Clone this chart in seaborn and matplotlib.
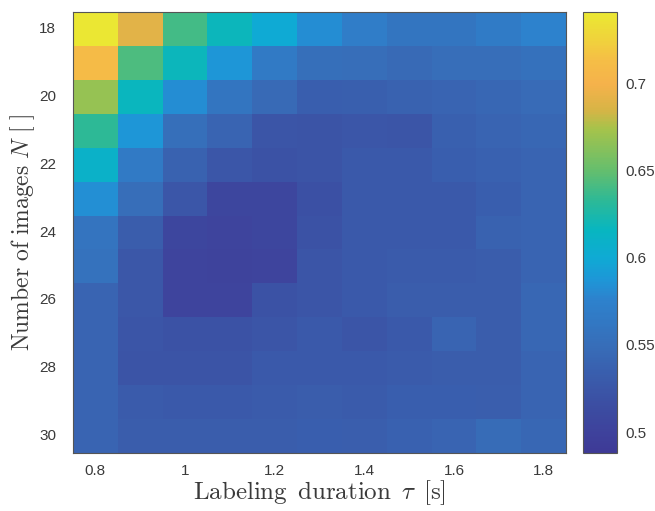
import numpy as np
import pandas as pd
import matplotlib
matplotlib.use("Agg")
import matplotlib.pyplot as plt
from matplotlib.colors import LinearSegmentedColormap
import seaborn as sns

# labeling duration tau [s] (columns) and number of images N (rows)
tau = [0.8, 0.9, 1.0, 1.1, 1.2, 1.3, 1.4, 1.5, 1.6, 1.7, 1.8]
n_images = [18, 19, 20, 21, 22, 23, 24, 25, 26, 27, 28, 29, 30]

# values, one list per row (N = 18 ... 30)
row_18 = [0.740, 0.690, 0.640, 0.618, 0.600, 0.582, 0.570, 0.560, 0.560, 0.568, 0.576]
row_19 = [0.710, 0.643, 0.618, 0.587, 0.566, 0.552, 0.550, 0.546, 0.550, 0.550, 0.555]
row_20 = [0.668, 0.617, 0.582, 0.560, 0.546, 0.534, 0.535, 0.538, 0.540, 0.543, 0.547]
row_21 = [0.633, 0.587, 0.552, 0.540, 0.524, 0.522, 0.525, 0.524, 0.536, 0.540, 0.543]
row_22 = [0.610, 0.566, 0.538, 0.525, 0.520, 0.522, 0.528, 0.528, 0.534, 0.537, 0.540]
row_23 = [0.583, 0.550, 0.525, 0.505, 0.505, 0.518, 0.528, 0.528, 0.528, 0.534, 0.540]
row_24 = [0.558, 0.532, 0.505, 0.502, 0.505, 0.520, 0.528, 0.528, 0.528, 0.538, 0.540]
row_25 = [0.556, 0.526, 0.502, 0.501, 0.502, 0.524, 0.528, 0.530, 0.530, 0.532, 0.540]
row_26 = [0.540, 0.526, 0.503, 0.503, 0.520, 0.524, 0.528, 0.532, 0.532, 0.532, 0.543]
row_27 = [0.540, 0.524, 0.520, 0.520, 0.524, 0.528, 0.524, 0.528, 0.540, 0.532, 0.543]
row_28 = [0.540, 0.522, 0.522, 0.522, 0.528, 0.528, 0.528, 0.530, 0.532, 0.532, 0.540]
row_29 = [0.540, 0.530, 0.528, 0.528, 0.530, 0.532, 0.530, 0.534, 0.534, 0.533, 0.540]
row_30 = [0.540, 0.532, 0.532, 0.532, 0.532, 0.534, 0.533, 0.537, 0.540, 0.548, 0.543]

x_tick_labels = ["0.8", "1", "1.2", "1.4", "1.6", "1.8"]
y_tick_labels = ["18", "20", "22", "24", "26", "28", "30"]
cbar_ticks = [0.5, 0.55, 0.6, 0.65, 0.7]
cbar_tick_labels = ["0.5", "0.55", "0.6", "0.65", "0.7"]
v_min, v_max = 0.488, 0.741

rows = [row_18, row_19, row_20, row_21, row_22, row_23, row_24,
        row_25, row_26, row_27, row_28, row_29, row_30]
df = pd.DataFrame(rows, index=n_images, columns=tau)

# parula-like colormap, sampled from the reference colour bar
anchors = [
    (0.000, (62, 58, 150)), (0.047, (62, 66, 156)), (0.099, (60, 76, 161)),
    (0.166, (58, 91, 171)), (0.245, (55, 110, 185)), (0.348, (45, 130, 205)),
    (0.391, (30, 150, 215)), (0.443, (15, 170, 212)), (0.506, (8, 182, 192)),
    (0.573, (45, 185, 150)), (0.640, (100, 190, 110)), (0.735, (165, 195, 75)),
    (0.779, (215, 180, 70)), (0.838, (245, 178, 75)), (0.893, (245, 190, 70)),
    (0.937, (240, 210, 60)), (1.000, (235, 232, 50)),
]
parula = LinearSegmentedColormap.from_list(
    "parula_ish", [(p, tuple(c / 255 for c in rgb)) for p, rgb in anchors])

sns.set_style("white")
plt.rcParams["font.family"] = ["Liberation Sans", "DejaVu Sans"]
plt.rcParams["mathtext.fontset"] = "cm"

text_col = "#3a3a3a"
fig = plt.figure(figsize=(6.55, 5.11), dpi=100)
ax = fig.add_axes([73 / 655, 58 / 511, 493 / 655, 441 / 511])
cax = fig.add_axes([583 / 655, 58 / 511, 34 / 655, 441 / 511])

sns.heatmap(df, ax=ax, cbar_ax=cax, cmap=parula, vmin=v_min, vmax=v_max,
            cbar_kws={"ticks": cbar_ticks})

ax.set_xticks(np.arange(0, len(tau), 2) + 0.5)
ax.set_xticklabels(x_tick_labels, rotation=0)
ax.set_yticks(np.arange(0, len(n_images), 2) + 0.5)
ax.set_yticklabels(y_tick_labels, rotation=0)
ax.tick_params(direction="in", top=True, right=True, bottom=True, left=True,
               length=4, width=0.7, color="#444444", labelsize=11,
               labelcolor=text_col)
ax.tick_params(axis="x", pad=8)
ax.tick_params(axis="y", pad=12)
for sp in ax.spines.values():
    sp.set_visible(True)
    sp.set_linewidth(0.8)
    sp.set_color("#555555")

ax.set_xlabel(r"$\mathrm{Labeling\ \,duration}\ \,\tau\ \,[\mathrm{s}]$",
              fontsize=18, color=text_col, labelpad=0)
ax.set_ylabel(r"$\mathrm{Number\ of\ images}\ N\ [\ ]$",
              fontsize=17, color=text_col, labelpad=2)

cbar = ax.collections[0].colorbar
cbar.set_ticks(cbar_ticks)
cbar.set_ticklabels(cbar_tick_labels)
cbar.ax.tick_params(direction="in", length=4, width=0.7, color="#444444",
                    labelsize=11, labelcolor=text_col, pad=6)
cbar.outline.set_visible(True)
cbar.outline.set_edgecolor("#555555")
cbar.outline.set_linewidth(0.8)

plt.savefig("out.png", dpi=100)
